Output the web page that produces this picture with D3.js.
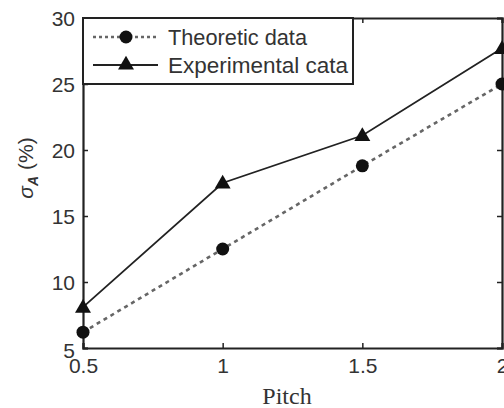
<!DOCTYPE html>
<html><head><meta charset="utf-8">
<script src="https://cdn.jsdelivr.net/npm/d3@7"></script>
<style>body{margin:0;background:#fff}svg{display:block}</style>
</head><body>
<svg id="c" width="504" height="408"></svg>
<script>
const pitch = [0.5, 1, 1.5, 2];
const theoretic = [6.2, 12.5, 18.8, 25.0];
const experimental = [8.1, 17.5, 21.1, 27.7];
const xTicks = [0.5, 1, 1.5, 2];
const yTicks = [5, 10, 15, 20, 25, 30];
const seriesNames = ["Theoretic data", "Experimental cata"];

const svg = d3.select("#c");
const L = 83, R = 502, T = 18, B = 348;
const x = d3.scaleLinear().domain([0.5, 2]).range([L, R]);
const y = d3.scaleLinear().domain([5, 30]).range([B, T]);
const font = "Liberation Sans, Arial, sans-serif";
const ink = "#222";

// axes with inward ticks
const gx = svg.append("g").attr("transform", `translate(0,${B})`)
  .call(d3.axisBottom(x).tickValues(xTicks).tickSize(-5).tickPadding(12).tickFormat(d3.format("")));
const gxt = svg.append("g").attr("transform", `translate(0,${T})`)
  .call(d3.axisTop(x).tickValues(xTicks).tickSize(-5).tickFormat(""));
const gy = svg.append("g").attr("transform", `translate(${L},0)`)
  .call(d3.axisLeft(y).tickValues(yTicks).tickSize(-5).tickPadding(8).tickFormat(d3.format("")));
const gyr = svg.append("g").attr("transform", `translate(${R},0)`)
  .call(d3.axisRight(y).tickValues(yTicks).tickSize(-5).tickFormat(""));
[gx, gxt, gy, gyr].forEach(g => {
  g.select(".domain").attr("stroke", ink).attr("stroke-width", 2.2);
  g.selectAll(".tick line").attr("stroke", ink).attr("stroke-width", 1.5);
  g.selectAll("text").attr("fill", "#333").style("font-family", font).style("font-size", "21px");
});
gx.selectAll(".tick text").attr("dy", "0.6em");
gy.selectAll(".tick text").attr("dy", "0.35em");
// the "5" label sits a bit lower
gy.selectAll(".tick text").filter(d => d === 5).attr("dy", "0.45em");

// lines
const line = (vals) => d3.line().x((d, i) => x(pitch[i])).y(d => y(d))(vals);
svg.append("path").attr("d", line(theoretic)).attr("fill", "none")
  .attr("stroke", "#666").attr("stroke-width", 2.6).attr("stroke-dasharray", "4,4");
svg.append("path").attr("d", line(experimental)).attr("fill", "none")
  .attr("stroke", "#222").attr("stroke-width", 1.8);

const tri = d3.symbol().type(d3.symbolTriangle).size(110);
svg.append("g").selectAll("circle").data(theoretic).join("circle")
  .attr("cx", (d, i) => x(pitch[i])).attr("cy", d => y(d)).attr("r", 6.5).attr("fill", "#111");
svg.append("g").selectAll("path").data(experimental).join("path")
  .attr("d", tri).attr("transform", (d, i) => `translate(${x(pitch[i])},${y(d) + 1})`).attr("fill", "#111");

// legend
const lg = svg.append("g");
lg.append("rect").attr("x", L).attr("y", T).attr("width", 353 - L).attr("height", 84 - T)
  .attr("fill", "#fff").attr("stroke", ink).attr("stroke-width", 2);
const rows = [37, 65];
lg.append("line").attr("x1", 93).attr("x2", 158).attr("y1", rows[0]).attr("y2", rows[0])
  .attr("stroke", "#666").attr("stroke-width", 2.4).attr("stroke-dasharray", "3,3");
lg.append("circle").attr("cx", 126).attr("cy", rows[0]).attr("r", 6.5).attr("fill", "#111");
lg.append("line").attr("x1", 93).attr("x2", 158).attr("y1", rows[1]).attr("y2", rows[1])
  .attr("stroke", "#222").attr("stroke-width", 1.8);
lg.append("path").attr("d", tri).attr("transform", `translate(126,${rows[1]})`).attr("fill", "#111");
lg.selectAll("text").data(seriesNames).join("text")
  .attr("x", 168).attr("y", (d, i) => rows[i]).attr("dy", "0.36em")
  .attr("fill", "#333").style("font-family", font).style("font-size", "22px")
  .attr("textLength", (d, i) => i === 0 ? 139 : 180).attr("lengthAdjust", "spacingAndGlyphs")
  .text(d => d);

// axis titles
svg.append("text").attr("x", 287).attr("y", 396).attr("dy", "0.35em").attr("text-anchor", "middle")
  .attr("fill", "#333").style("font-family", "Liberation Serif, Times New Roman, serif")
  .style("font-size", "24px").text("Pitch");
const yl = svg.append("text").attr("transform", "translate(26,168) rotate(-90)")
  .attr("text-anchor", "middle").attr("dy", "0.35em").attr("fill", "#333")
  .style("font-family", font).style("font-size", "21px");
yl.append("tspan").style("font-style", "italic").text("σ");
yl.append("tspan").attr("dy", "5").style("font-size", "14px").style("font-style", "italic").style("font-weight", "bold").text("A");
yl.append("tspan").attr("dy", "-5").text(" (%)");
</script>
</body></html>
